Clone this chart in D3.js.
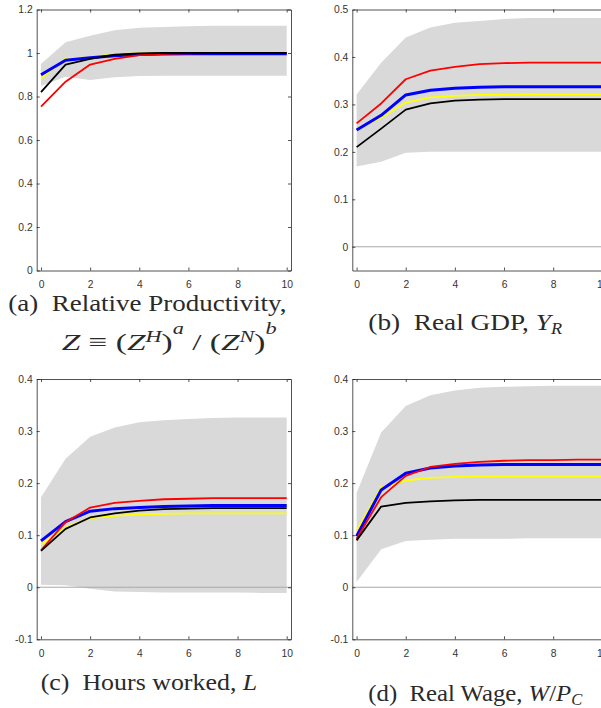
<!DOCTYPE html>
<html><head><meta charset="utf-8">
<script src="https://cdn.jsdelivr.net/npm/d3@7"></script>
<style>
html,body{margin:0;padding:0;background:#fff;}
svg{display:block;}
.tick text{font-family:"Liberation Sans",Arial,sans-serif;font-size:10.3px;fill:#333;}
.cap{font-family:"Liberation Serif","Times New Roman",serif;fill:#2a2a2a;}
</style></head>
<body>
<svg id="chart" width="601" height="708"></svg>
<script>
// ---------- data ----------
const horizon = [0,1,2,3,4,5,6,7,8,9,10];
const xTicks = [0,2,4,6,8,10];

// (a) Relative productivity
const prodRed    = [0.753,0.868,0.947,0.973,0.990,0.996,0.998,0.999,1.000,1.000,1.000];
const prodBlue   = [0.900,0.967,0.978,0.987,0.993,0.995,0.996,0.996,0.996,0.996,0.996];
const prodYellow = [0.882,0.975,0.980,0.995,0.998,1.000,1.000,1.000,1.000,1.000,1.000];
const prodBlack  = [0.820,0.947,0.973,0.992,0.998,1.000,1.000,1.000,1.000,1.000,1.000];
const prodBandLow  = [0.848,0.891,0.876,0.888,0.894,0.895,0.895,0.895,0.895,0.895,0.895];
const prodBandHigh = [0.949,1.049,1.079,1.105,1.116,1.120,1.123,1.125,1.125,1.125,1.125];
const prodTicks = [0,0.2,0.4,0.6,0.8,1,1.2];

// (b) Real GDP
const gdpRed    = [0.260,0.302,0.353,0.371,0.379,0.385,0.387,0.388,0.388,0.388,0.388];
const gdpBlue   = [0.246,0.277,0.320,0.330,0.334,0.336,0.337,0.337,0.337,0.337,0.337];
const gdpYellow = [0.249,0.272,0.304,0.315,0.318,0.320,0.320,0.321,0.321,0.321,0.321];
const gdpBlack  = [0.210,0.249,0.289,0.302,0.308,0.310,0.311,0.311,0.311,0.311,0.311];
const gdpBandLow  = [0.169,0.179,0.198,0.200,0.200,0.200,0.200,0.200,0.200,0.200,0.200];
const gdpBandHigh = [0.321,0.388,0.441,0.462,0.472,0.476,0.480,0.482,0.482,0.482,0.482];
const gdpTicks = [0,0.1,0.2,0.3,0.4,0.5];

// (c) Hours worked
const hoursRed    = [0.071,0.125,0.153,0.162,0.166,0.169,0.170,0.171,0.171,0.171,0.171];
const hoursBlue   = [0.089,0.126,0.146,0.151,0.153,0.155,0.156,0.157,0.157,0.157,0.157];
const hoursYellow = [0.082,0.115,0.133,0.137,0.140,0.141,0.142,0.142,0.142,0.142,0.142];
const hoursBlack  = [0.070,0.112,0.134,0.142,0.147,0.150,0.151,0.152,0.152,0.152,0.152];
const hoursBandLow  = [0.005,0.004,-0.003,-0.008,-0.009,-0.010,-0.010,-0.010,-0.010,-0.011,-0.011];
const hoursBandHigh = [0.173,0.247,0.289,0.307,0.317,0.321,0.323,0.325,0.326,0.326,0.326];
const hoursTicks = [-0.1,0,0.1,0.2,0.3,0.4];

// (d) Real wage
const wageRed    = [0.093,0.173,0.214,0.231,0.237,0.241,0.243,0.244,0.244,0.245,0.245];
const wageBlue   = [0.098,0.187,0.219,0.229,0.233,0.235,0.236,0.236,0.236,0.236,0.236];
const wageYellow = [0.109,0.192,0.205,0.210,0.212,0.213,0.213,0.213,0.213,0.213,0.213];
const wageBlack  = [0.090,0.155,0.162,0.165,0.167,0.168,0.168,0.168,0.168,0.168,0.168];
const wageBandLow  = [0.010,0.073,0.089,0.091,0.093,0.093,0.093,0.094,0.094,0.094,0.094];
const wageBandHigh = [0.181,0.297,0.348,0.369,0.378,0.383,0.385,0.386,0.387,0.387,0.387];
const wageTicks = [-0.1,0,0.1,0.2,0.3,0.4];

// ---------- layout ----------
const svg = d3.select("#chart");
const fmt = v => String(+v.toFixed(3));

const panels = [
  {x:36.7, y:9.5, w:254.3, h:261, ylim:[0,1.2], yTicks:prodTicks, zero:false,
   red:prodRed, blue:prodBlue, yellow:prodYellow, black:prodBlack, lo:prodBandLow, hi:prodBandHigh},
  {x:352.3, y:9.5, w:254.3, h:261, ylim:[-0.05,0.5], yTicks:gdpTicks, zero:true,
   red:gdpRed, blue:gdpBlue, yellow:gdpYellow, black:gdpBlack, lo:gdpBandLow, hi:gdpBandHigh},
  {x:36.7, y:379, w:254.3, h:260.3, ylim:[-0.1,0.4], yTicks:hoursTicks, zero:true,
   red:hoursRed, blue:hoursBlue, yellow:hoursYellow, black:hoursBlack, lo:hoursBandLow, hi:hoursBandHigh},
  {x:352.3, y:379, w:254.3, h:260.3, ylim:[-0.1,0.4], yTicks:wageTicks, zero:true,
   red:wageRed, blue:wageBlue, yellow:wageYellow, black:wageBlack, lo:wageBandLow, hi:wageBandHigh}
];

panels.forEach((p,i) => {
  const g = svg.append("g").attr("transform", `translate(${p.x},${p.y})`);
  const x = d3.scaleLinear().domain([-0.175,10.175]).range([0,p.w]);
  const y = d3.scaleLinear().domain(p.ylim).range([p.h,0]);
  const clipId = "clip"+i;
  g.append("clipPath").attr("id",clipId).append("rect").attr("width",p.w).attr("height",p.h);
  const plot = g.append("g").attr("clip-path",`url(#${clipId})`);

  const area = d3.area().x((d,j)=>x(horizon[j])).y0((d,j)=>y(p.lo[j])).y1((d,j)=>y(p.hi[j]));
  plot.append("path").datum(p.hi).attr("d",area).attr("fill","#d9d9d9");

  if (p.zero) {
    plot.append("line").attr("x1",0).attr("x2",p.w).attr("y1",y(0)).attr("y2",y(0))
      .attr("stroke","#a8a8a8").attr("stroke-width",1);
  }

  const line = d3.line().x((d,j)=>x(horizon[j])).y(d=>y(d));
  const series = [
    {v:p.yellow, c:"#ffff00", w:1.8},
    {v:p.blue,   c:"#0000ff", w:3},
    {v:p.red,    c:"#ff0000", w:1.8},
    {v:p.black,  c:"#000000", w:1.8}
  ];
  series.forEach(s => {
    plot.append("path").datum(s.v).attr("d",line).attr("fill","none")
      .attr("stroke",s.c).attr("stroke-width",s.w).attr("stroke-linejoin","round");
  });

  const axB = d3.axisBottom(x).tickValues(xTicks).tickFormat(fmt).tickSizeInner(-3).tickSizeOuter(0).tickPadding(10);
  const axT = d3.axisTop(x).tickValues(xTicks).tickFormat("").tickSizeInner(-3).tickSizeOuter(0);
  const axL = d3.axisLeft(y).tickValues(p.yTicks).tickFormat(fmt).tickSizeInner(-3).tickSizeOuter(0).tickPadding(4);
  const axR = d3.axisRight(y).tickValues(p.yTicks).tickFormat("").tickSizeInner(-3).tickSizeOuter(0);
  [[axB,`translate(0,${p.h})`],[axT,"translate(0,0)"],[axL,"translate(0,0)"],[axR,`translate(${p.w},0)`]].forEach(([ax,t])=>{
    const a = g.append("g").attr("transform",t).call(ax);
    a.selectAll("line").attr("stroke","#262626").attr("stroke-width",0.8);
    a.select(".domain").attr("stroke","#262626").attr("stroke-width",0.8);
  });
});

// ---------- captions ----------
function caption(parts, x, baseline, targetW) {
  const t = svg.append("text").attr("class","cap").attr("x",0).attr("y",0).attr("font-size",24);
  parts.forEach(pt => {
    const ts = t.append("tspan").text(pt.t);
    if (pt.i) ts.attr("font-style","italic");
    if (pt.s) ts.attr("font-size",pt.s);
    if (pt.dy) ts.attr("dy",pt.dy);
  });
  const bb = t.node().getBBox();
  const k = targetW / bb.width;
  t.attr("transform",`translate(${x - bb.x*k},${baseline}) scale(${k},1)`);
}

caption([{t:"(a)\u2002Relative Productivity,"}], 8.3, 310.8, 278.5);
caption([
  {t:"Z",i:1},{t:" \u2261 ("},{t:"Z",i:1},{t:"H",i:1,s:16,dy:-8},{t:")",dy:8},
  {t:"a",i:1,s:16,dy:-16},{t:" / (",dy:16},{t:"Z",i:1},{t:"N",i:1,s:16,dy:-8},{t:")",dy:8},
  {t:"b",i:1,s:16,dy:-16}
], 61.7, 349.8, 215);
caption([{t:"(b)\u2002Real GDP, "},{t:"Y",i:1},{t:"R",i:1,s:16,dy:4}], 368.3, 330, 194);
caption([{t:"(c)\u2002Hours worked, "},{t:"L",i:1}], 40.7, 690, 216.6);
caption([{t:"(d)\u2002Real Wage, "},{t:"W",i:1},{t:"/"},{t:"P",i:1},{t:"C",i:1,s:16,dy:4}], 368.3, 701, 214.4);
</script>
</body></html>
